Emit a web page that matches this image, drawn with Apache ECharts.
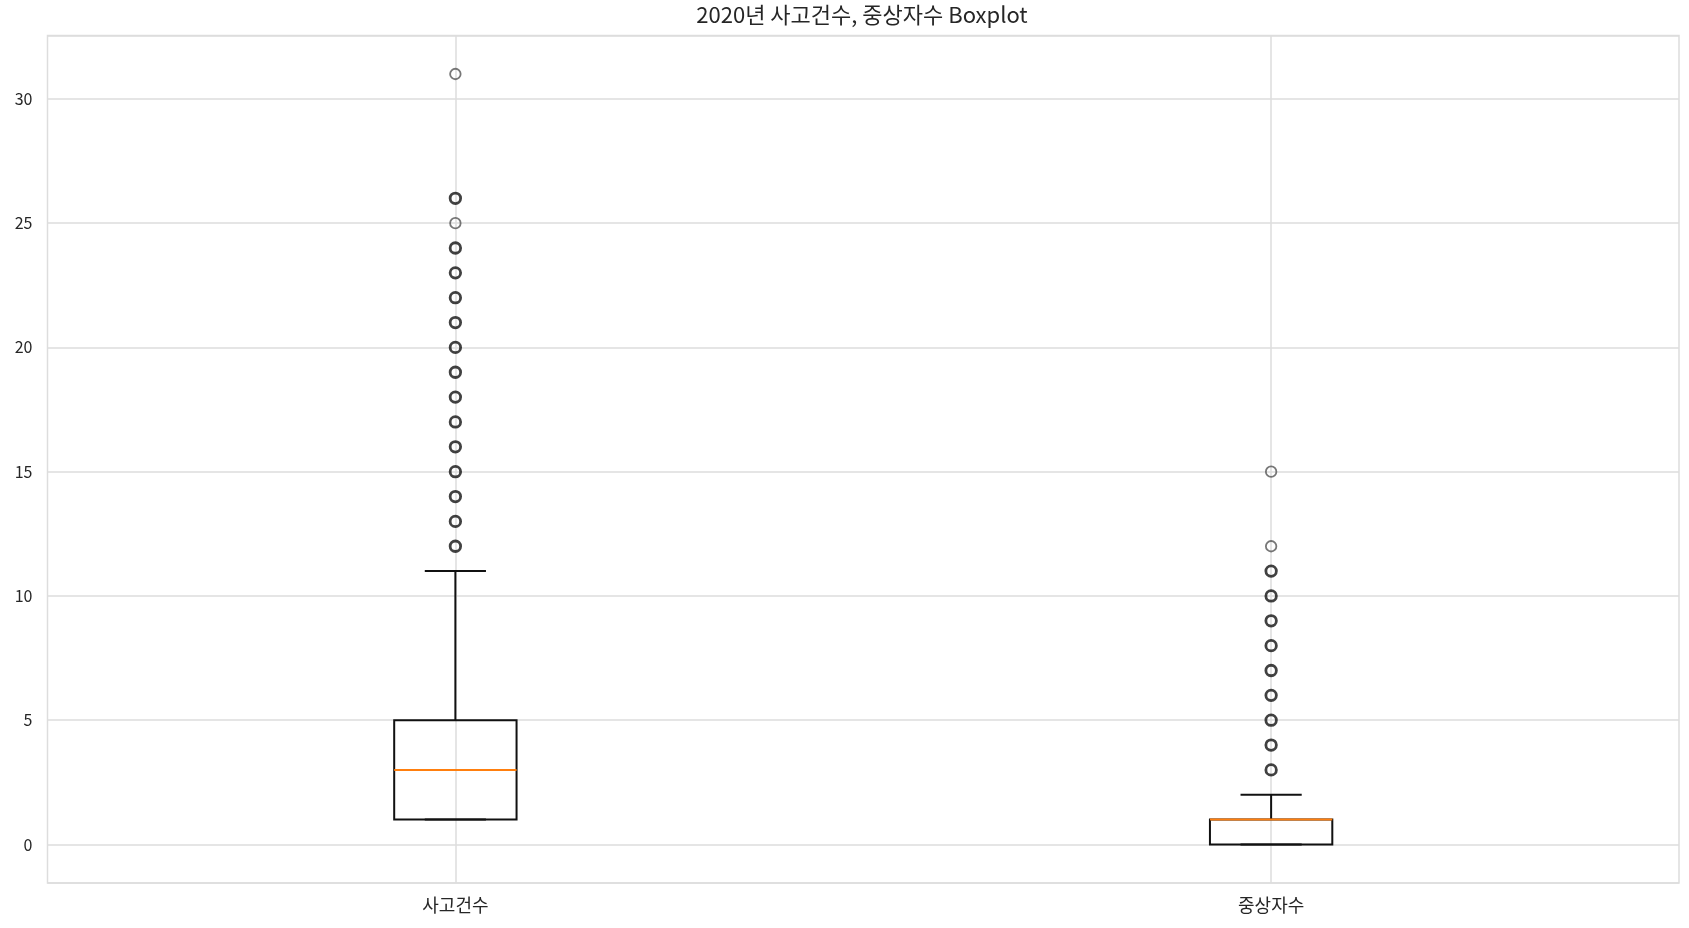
<!DOCTYPE html>
<html>
<head>
<meta charset="utf-8">
<script src="https://cdn.jsdelivr.net/npm/echarts@6/dist/echarts.min.js"></script>
<style>
html,body{margin:0;padding:0;background:#fff;}
#chart{width:1689px;height:928px;}
</style>
</head>
<body>
<div id="chart"></div>
<script>
// ---- data ----
const categories = ['사고건수', '중상자수'];
// [lower whisker, Q1, median, Q3, upper whisker]
const accidentBox = [1, 1, 3, 5, 11];
const severeBox = [0, 0, 1, 1, 2];
const accidentOutliers = [12, 13, 14, 15, 16, 17, 18, 19, 20, 21, 22, 23, 24, 25, 26, 31];
const severeOutliers = [3, 4, 5, 6, 7, 8, 9, 10, 11, 12, 15];
const yMin = -1.55;
const yMax = 32.55;

// values that appear as single (lighter) circles in the picture
const lightOutliers = [[0, 31], [0, 25], [1, 15], [1, 12]];

const boxData = [
  [0].concat(accidentBox),
  [1].concat(severeBox)
];
const outlierData = [];
accidentOutliers.forEach(v => outlierData.push([0, v]));
severeOutliers.forEach(v => outlierData.push([1, v]));
const isLight = p => lightOutliers.some(q => q[0] === p[0] && q[1] === p[1]);

const chart = echarts.init(document.getElementById('chart'));
const FONT = '"Noto Sans CJK KR", "Noto Sans", sans-serif';

const option = {
  backgroundColor: '#ffffff',
  animation: false,
  title: {
    text: '2020년 사고건수, 중상자수 Boxplot',
    left: 862,
    top: 4,
    padding: 0,
    textAlign: 'center',
    textStyle: { fontFamily: FONT, fontSize: 22, fontWeight: 'normal', color: '#262626' }
  },
  grid: {
    left: 47.5, right: 10, top: 35.5, bottom: 45,
    show: true, borderColor: '#dddddd', borderWidth: 1.5, backgroundColor: '#ffffff'
  },
  xAxis: {
    type: 'category',
    data: categories,
    boundaryGap: true,
    axisLine: { show: false },
    axisTick: { show: false },
    splitLine: { show: false },
    axisLabel: { fontFamily: FONT, fontSize: 18, color: '#262626', margin: 13 }
  },
  yAxis: {
    type: 'value',
    min: yMin,
    max: yMax,
    minInterval: 5,
    maxInterval: 5,
    axisLine: { show: false },
    axisTick: { show: false },
    splitLine: { lineStyle: { color: '#dddddd', width: 1.5 } },
    axisLabel: {
      fontFamily: FONT, fontSize: 16, color: '#262626', margin: 15,
      showMinLabel: false, showMaxLabel: false
    }
  },
  series: [
    {
      type: 'line',
      data: [],
      z: 1,
      silent: true,
      markLine: {
        z: 1,
        silent: true,
        symbol: ['none', 'none'],
        label: { show: false },
        lineStyle: { color: '#dddddd', width: 1.5, type: 'solid' },
        data: categories.map(c => ({ xAxis: c }))
      }
    },
    {
      type: 'custom',
      z: 3,
      data: boxData,
      encode: { x: 0, y: [1, 2, 3, 4, 5] },
      renderItem: function (params, api) {
        const c = api.value(0);
        const band = api.size([1, 0])[0];
        const hw = band * 0.15 / 2;
        const cw = hw / 2;
        const pMin = api.coord([c, api.value(1)]);
        const pQ1 = api.coord([c, api.value(2)]);
        const pMed = api.coord([c, api.value(3)]);
        const pQ3 = api.coord([c, api.value(4)]);
        const pMax = api.coord([c, api.value(5)]);
        const x = pMed[0];
        const black = { stroke: '#111111', lineWidth: 2, fill: null };
        return {
          type: 'group',
          children: [
            { type: 'line', shape: { x1: x, y1: pQ3[1], x2: x, y2: pMax[1] }, style: black },
            { type: 'line', shape: { x1: x, y1: pQ1[1], x2: x, y2: pMin[1] }, style: black },
            { type: 'line', shape: { x1: x - cw, y1: pMax[1], x2: x + cw, y2: pMax[1] }, style: black },
            { type: 'line', shape: { x1: x - cw, y1: pMin[1], x2: x + cw, y2: pMin[1] }, style: black },
            { type: 'rect', shape: { x: x - hw, y: pQ3[1], width: hw * 2, height: pQ1[1] - pQ3[1] }, style: { stroke: '#111111', lineWidth: 2, fill: null } },
            { type: 'line', shape: { x1: x - hw, y1: pMed[1], x2: x + hw, y2: pMed[1] }, style: { stroke: '#ff7f0e', lineWidth: 2 } }
          ]
        };
      }
    },
    {
      type: 'scatter',
      z: 4,
      symbol: 'circle',
      symbolSize: 10.5,
      data: outlierData.map(p => ({
        value: p,
        itemStyle: isLight(p)
          ? { color: 'rgba(0,0,0,0)', borderColor: '#555555', borderWidth: 1.8 }
          : { color: 'rgba(0,0,0,0)', borderColor: '#111111', borderWidth: 2.8 }
      }))
    }
  ]
};
chart.setOption(option);
</script>
</body>
</html>
